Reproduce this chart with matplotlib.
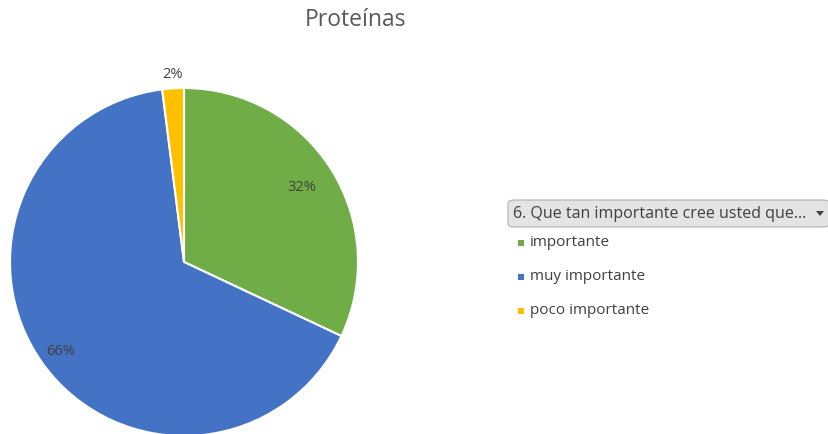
import matplotlib
matplotlib.use("Agg")
import matplotlib.pyplot as plt
from matplotlib.patches import FancyBboxPatch, Rectangle, Polygon
import numpy as np

categories = ["importante", "muy importante", "poco importante"]
values = [32, 66, 2]
colors = ["#70AD47", "#4472C4", "#FFC000"]
label_radius = [0.80, 0.875, 1.08]
title = "Proteínas"
legend_title = "6. Que tan importante cree usted que..."

W, H = 829, 434
fig = plt.figure(figsize=(W / 100, H / 100), dpi=100)
plt.rcParams["font.family"] = ["Open Sans", "DejaVu Sans"]

cx, cy, r = 184, 262, 174
ax = fig.add_axes([(cx - r) / W, (H - cy - r) / H, 2 * r / W, 2 * r / H])
wedges, _ = ax.pie(values, colors=colors, startangle=90, counterclock=False,
                   radius=1.0, wedgeprops=dict(edgecolor="white", linewidth=1.5))
ax.set_xlim(-1, 1)
ax.set_ylim(-1, 1)
ax.set_aspect("equal")
ax.axis("off")

total = sum(values)
for w, v, lr in zip(wedges, values, label_radius):
    mid = np.deg2rad((w.theta1 + w.theta2) / 2)
    ax.text(lr * np.cos(mid), lr * np.sin(mid), f"{round(100 * v / total)}%",
            ha="center", va="center", fontsize=10.5, color="#404040")

fig.text(356 / W, 1 - 20 / H, title, ha="center", va="center",
         fontsize=16.5, color="#595959")

# legend header button
bx0, by0, bx1, by1 = 508, 200, 829, 227
box = FancyBboxPatch((bx0 / W, 1 - by1 / H), (bx1 - bx0) / W, (by1 - by0) / H,
                     boxstyle="round,pad=0,rounding_size=0.008",
                     transform=fig.transFigure, facecolor="#E4E4E4",
                     edgecolor="#B0B0B0", linewidth=0.8)
fig.add_artist(box)
fig.text(513 / W, 1 - 214 / H, legend_title, ha="left", va="center",
         fontsize=11.5, color="#404040")
arrow = Polygon([[816 / W, 1 - 211 / H], [824 / W, 1 - 211 / H], [820 / W, 1 - 216 / H]],
                closed=True, transform=fig.transFigure, facecolor="#404040",
                edgecolor="none")
fig.add_artist(arrow)

ys = [243, 277, 311]
for cat, col, y in zip(categories, colors, ys):
    fig.add_artist(Rectangle((518 / W, 1 - (y + 3) / H), 6 / W, 6 / H,
                             transform=fig.transFigure, facecolor=col,
                             edgecolor="none"))
    fig.text(530 / W, 1 - y / H, cat, ha="left", va="center",
             fontsize=11, color="#404040")

fig.savefig("out.png", dpi=100)
